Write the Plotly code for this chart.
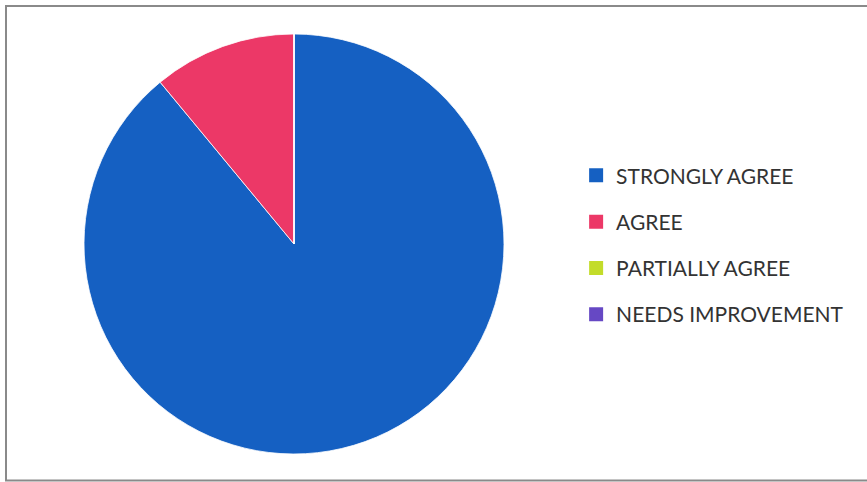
import plotly.graph_objects as go

categories = ["STRONGLY AGREE", "AGREE", "PARTIALLY AGREE", "NEEDS IMPROVEMENT"]
values = [89, 11, 0, 0]
colors = ["#1560c2", "#ec3867", "#c3dc2a", "#6648c4"]

W, H = 867, 482
cx, cy, r = 294, 244, 210

fig = go.Figure()
fig.add_trace(go.Pie(
    labels=categories, values=values, sort=False, direction="clockwise", rotation=0,
    marker=dict(colors=colors, line=dict(color="rgba(255,255,255,0.8)", width=1)),
    textinfo="none", hoverinfo="label+value", showlegend=False,
    domain=dict(x=[(cx - r) / W, (cx + r) / W], y=[1 - (cy + r) / H, 1 - (cy - r) / H]),
))
for name, col in zip(categories, colors):
    fig.add_trace(go.Scatter(
        x=[None], y=[None], mode="markers", name=name, legendgroup=name,
        marker=dict(symbol="square", size=14, color=col),
    ))

fig.update_layout(
    width=W, height=H,
    margin=dict(l=0, r=0, t=0, b=0),
    paper_bgcolor="white", plot_bgcolor="white",
    xaxis=dict(visible=False), yaxis=dict(visible=False),
    legend=dict(x=0.6645, y=0.678, xanchor="left", yanchor="top",
                font=dict(family="Lato, Carlito, sans-serif", size=21, color="#333333"),
                tracegroupgap=16, itemwidth=30, bgcolor="rgba(0,0,0,0)"),
    shapes=[dict(type="rect", xref="paper", yref="paper", x0=6 / W, x1=1.01, y0=1.5 / H, y1=1 - 6 / H,
                 line=dict(color="#8a8a8a", width=2))],
)
fig.write_html("out.html", config={"displayModeBar": False},
               post_script="document.body.style.margin='0';")
